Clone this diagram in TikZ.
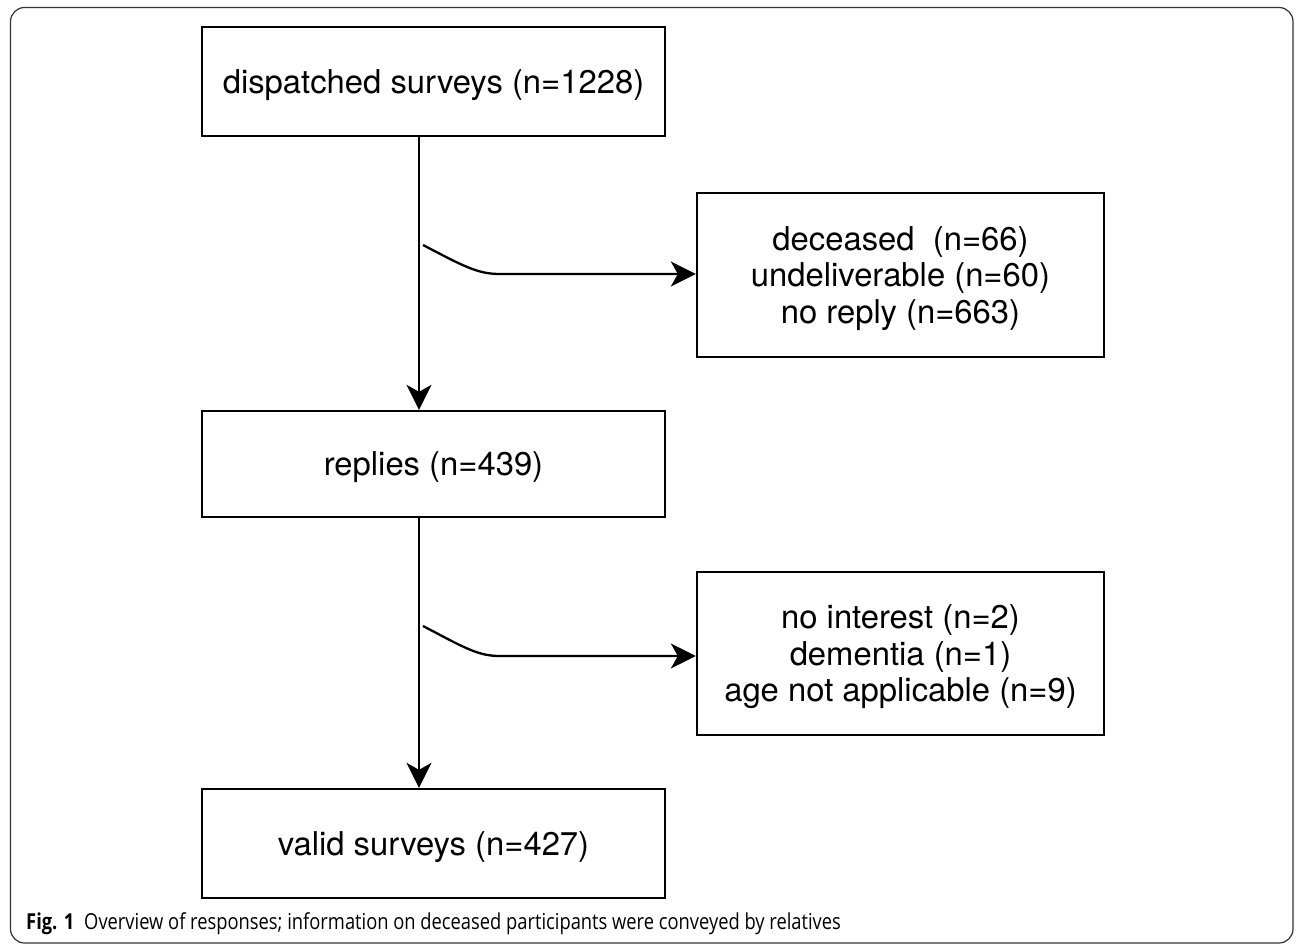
\documentclass[tikz,border=0pt]{standalone}
\usepackage{fontspec}
\setmainfont{TeX Gyre Heros}
\newfontfamily\capfont[FakeStretch=0.833]{Open Sans}
\usetikzlibrary{arrows.meta}
\begin{document}
\begin{tikzpicture}[x=1pt,y=-1pt,
  flowbox/.style={draw=black,line width=2.3pt,inner sep=0pt,align=center,text depth=0pt,
    font=\fontsize{32.8pt}{36.5pt}\selectfont},
  conn/.style={line width=2.3pt,-{Stealth[length=25pt,width=25pt,inset=7pt]}}]
\useasboundingbox (0,0) rectangle (1296,944);
\fill[white] (0,0) rectangle (1296,944);
\draw[line width=1.2pt,draw=black!80,rounded corners=14pt] (10.5,7.5) rectangle (1293,943);
\node[flowbox,minimum width=463pt,minimum height=109pt] (disp) at (433.5,81.5) {dispatched surveys (n=1228)};
\node[flowbox,minimum width=407pt,minimum height=164pt] (excl1) at (900.5,275) {deceased\ \ (n=66)\\undeliverable (n=60)\\no reply (n=663)};
\node[flowbox,minimum width=463pt,minimum height=106pt] (repl) at (433.5,464) {replies (n=439)};
\node[flowbox,minimum width=407pt,minimum height=163pt] (excl2) at (900.5,653.5) {no interest (n=2)\\dementia (n=1)\\age not applicable (n=9)};
\node[flowbox,minimum width=463pt,minimum height=109pt] (valid) at (433.5,843.5) {valid surveys (n=427)};
\coordinate (b1s) at (423,245);
\coordinate (b1m) at (500,274);
\coordinate (b2s) at (423,626);
\coordinate (b2m) at (500,656);
\draw[conn] (disp.south -| 419,0) -- (repl.north -| 419,0);
\draw[conn] (repl.south -| 419,0) -- (valid.north -| 419,0);
\draw[conn] (b1s) .. controls (465,267) and (478,274) .. (b1m) -- (b1m -| excl1.west);
\draw[conn] (b2s) .. controls (465,648) and (478,656) .. (b2m) -- (b2m -| excl2.west);
\node[anchor=base west,inner sep=0pt,font=\capfont\fontsize{22pt}{24pt}\selectfont] (cap) at (26,929) {\textbf{Fig. 1}\hspace{10pt}Overview of responses; information on deceased participants were conveyed by relatives};
\end{tikzpicture}
\end{document}
